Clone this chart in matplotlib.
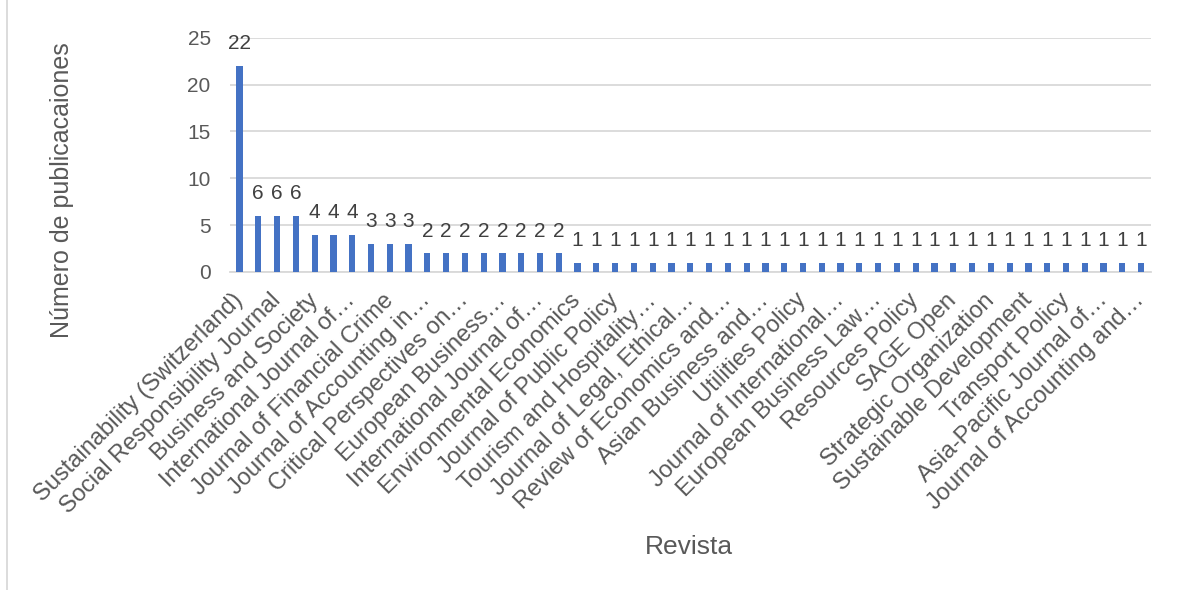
import matplotlib
matplotlib.use('Agg')
import matplotlib.pyplot as plt
from matplotlib.patches import Rectangle

plt.rcParams['font.family'] = ['Liberation Sans', 'DejaVu Sans']

# numero de publicaciones por revista (49 revistas, ordenadas)
valores = [22, 6, 6, 6, 4, 4, 4, 3, 3, 3, 2, 2, 2, 2, 2, 2, 2, 2] + [1] * 31

# Excel solo muestra una etiqueta de cada dos
etiquetas = ["Sustainability (Switzerland)", "Social Responsibility Journal",
             "Business and Society", "International Journal of…",
             "Journal of Financial Crime", "Journal of Accounting in…",
             "Critical Perspectives on…", "European Business…",
             "International Journal of…", "Environmental Economics",
             "Journal of Public Policy", "Tourism and Hospitality…",
             "Journal of Legal, Ethical…", "Review of Economics and…",
             "Asian Business and…", "Utilities Policy",
             "Journal of International…", "European Business Law…",
             "Resources Policy", "SAGE Open", "Strategic Organization",
             "Sustainable Development", "Transport Policy",
             "Asia-Pacific Journal of…", "Journal of Accounting and…"]

x = list(range(len(valores)))

fig = plt.figure(figsize=(11.8, 5.9), dpi=100)
ax = fig.add_axes([0.195, 0.539, 0.78, 0.397])

barras = ax.bar(x, valores, width=0.33, color='#4472C4', zorder=3)
ax.bar_label(barras, padding=9, fontsize=15, color='#404040')

ax.set_xlim(-0.5, len(valores) - 0.5)
ax.set_ylim(0, 25)
ax.set_yticks(range(0, 26, 5))
ax.yaxis.grid(True, color='#d9d9d9', linewidth=1.3, zorder=0)
ax.set_xticks(x[::2])
ax.set_xticklabels(etiquetas, rotation=45, ha='right', va='center',
                   rotation_mode='anchor', fontsize=17)
ax.tick_params(axis='both', length=0, labelcolor='#595959')
ax.tick_params(axis='y', pad=14, labelsize=15)
ax.tick_params(axis='x', pad=18)

for s in ['top', 'right', 'left']:
    ax.spines[s].set_visible(False)
ax.spines['bottom'].set_color('#d9d9d9')
ax.spines['bottom'].set_linewidth(1.3)

fig.text(62 / 1180, 1 - 190 / 590, "Número de publicacaiones", fontsize=18,
         color='#595959', rotation=90, ha='center', va='center')
fig.text(689 / 1180, 1 - 547 / 590, "Revista", fontsize=19, color='#595959',
         ha='center', va='center')

fig.patches.append(Rectangle((0.006, -0.01), 1.0, 1.02, transform=fig.transFigure,
                             fill=False, edgecolor='#d9d9d9', linewidth=1.3))

plt.savefig("out.png", dpi=100)
